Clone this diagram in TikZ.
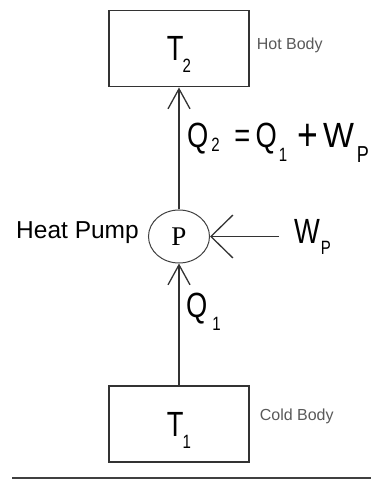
\documentclass[tikz,border=0pt]{standalone}
\usepackage{fontspec}
\usepackage{graphicx}
\setmainfont{Liberation Sans}
\newfontfamily\symfont{Liberation Sans}[FakeStretch=0.78]
\newfontfamily\pumpfont{Liberation Serif}
\usetikzlibrary{positioning,arrows.meta,shapes.geometric}
\newcommand{\lowsub}[2][12pt]{\raisebox{-#1}{\scalebox{0.55}{#2}}}

\begin{document}
\begin{tikzpicture}[x=1pt,y=1pt,>={Straight Barb[length=20pt,width=22pt]},
    bodybox/.style={draw=black!80, line width=1.3pt, minimum width=140pt, minimum height=76pt, text height=36pt, text depth=12pt, font=\symfont\fontsize{35}{35}\selectfont},
    bodytag/.style={text=black!65, inner sep=0pt, font=\fontsize{16}{16}\selectfont},
    flow/.style={->, line width=1.3pt, draw=black!80},
    sym/.style={inner sep=0pt, font=\symfont\fontsize{35}{35}\selectfont}]
    \useasboundingbox (0,0) rectangle (371,480);
    \node (pump) [draw=black!75, line width=1pt, ellipse, minimum width=61pt, minimum height=53pt, inner sep=0pt, font=\pumpfont\fontsize{27}{27}\selectfont] at (179,243.5) {P};
    \node (t2) [bodybox, above=122pt of pump] {T\kern-1pt\lowsub{2}};
    \node (t1) [bodybox, below=122pt of pump] {T\kern-1pt\lowsub{1}};
    \node (hot) [bodytag, right=7pt of t2, yshift=3pt] {Hot Body};
    \node (cold) [bodytag, right=10pt of t1, yshift=8pt] {Cold Body};
    \node (name) [inner sep=0pt, left=9pt of pump, yshift=4pt, font=\fontsize{24.5}{24.5}\selectfont] {Heat Pump};
    \node (wp) [sym, right=84pt of pump] {W\kern1pt\lowsub[11pt]{P}};
    \node (qtwo) [sym, anchor=base west] at (187,332) {Q\kern3pt\lowsub[4pt]{2}\hspace{14.5pt}=\hspace{5.5pt}Q\kern2pt\lowsub[14pt]{1}\hspace{10pt}\raisebox{-3pt}{\scalebox{1.3}{+}}\hspace{5pt}\scalebox{1.2}[1]{W}\kern3pt\lowsub[15pt]{\scalebox{1.2}{P}}};
    \node (qone) [sym, anchor=base west] at (186,162) {Q\kern5pt\lowsub[13pt]{1}};
    \draw[flow] (t1) -- (pump);
    \draw[flow] (pump) -- (t2);
    \draw[flow, >={Straight Barb[length=22pt,width=43pt]}, shorten <=15pt] (wp.west) -- (pump.east);
    \draw[line width=2.5pt, black!75] (12,2) -- (371,2);
\end{tikzpicture}
\end{document}
